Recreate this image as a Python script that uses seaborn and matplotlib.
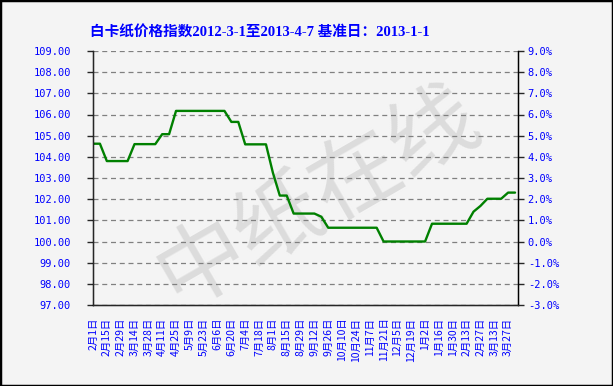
import pandas as pd
import numpy as np
import matplotlib
matplotlib.use("Agg")
import matplotlib.pyplot as plt
import seaborn as sns
from matplotlib.patches import Rectangle

# weekly index values
dates = pd.date_range("2012-02-01", periods=62, freq="7D")
values = [104.62, 104.62, 103.80, 103.80, 103.80, 103.80, 104.60, 104.60,
          104.60, 104.60, 105.07, 105.07, 106.17, 106.17, 106.17, 106.17,
          106.17, 106.17, 106.17, 106.17, 105.65, 105.65, 104.59, 104.59,
          104.59, 104.59, 103.25, 102.17, 102.17, 101.32, 101.32, 101.32,
          101.32, 101.17, 100.65, 100.65, 100.65, 100.65, 100.65, 100.65,
          100.65, 100.65, 100.00, 100.00, 100.00, 100.00, 100.00, 100.00,
          100.00, 100.84, 100.84, 100.84, 100.84, 100.84, 100.84, 101.41,
          101.68, 102.02, 102.02, 102.02, 102.31, 102.31]

tick_dates = pd.date_range("2012-02-01", periods=31, freq="14D")
tick_labels = ["2月1日", "2月15日", "2月29日", "3月14日", "3月28日", "4月11日",
               "4月25日", "5月9日", "5月23日", "6月6日", "6月20日", "7月4日",
               "7月18日", "8月1日", "8月15日", "8月29日", "9月12日", "9月26日",
               "10月10日", "10月24日", "11月7日", "11月21日", "12月5日",
               "12月19日", "1月2日", "1月16日", "1月30日", "2月13日", "2月27日",
               "3月13日", "3月27日"]
left_ticks = list(range(97, 110))
right_ticks = list(range(-3, 10))

sns.set_style("white")
plt.rcParams["font.family"] = ["Noto Sans CJK SC", "DejaVu Sans"]
blue = "#0000FF"

df = pd.DataFrame({"date": dates, "value": values})

fig = plt.figure(figsize=(6.13, 3.86), dpi=100, facecolor="#f4f4f4")
ax = fig.add_axes([93 / 613, 1 - 305 / 386, 425 / 613, 254 / 386])
ax.set_facecolor("none")
ax.set_zorder(2)

# watermark
fig.text(0.52, 0.49, "中纸在线", rotation=30, fontsize=64, color="#dcdcdc",
         ha="center", va="center", zorder=0.5)

sns.lineplot(data=df, x="date", y="value", ax=ax, color="#008000", linewidth=1.7)

ax.set_xlim(dates[0], dates[-1] + pd.Timedelta(days=3))
ax.set_ylim(97, 109)
ax.set_yticks(left_ticks)
ax.set_yticklabels([f"{v:.2f}" for v in left_ticks], color=blue, fontsize=7.5,
                   family="DejaVu Sans Mono")
ax.set_xticks(tick_dates)
ax.set_xticklabels(tick_labels, rotation=90, color=blue, fontsize=7.5, ha="center", va="top")
ax.tick_params(axis="x", direction="in", length=4, width=1, pad=9)
ax.tick_params(axis="y", direction="out", length=4, width=1, left=True, pad=12)
ax.set_xlabel("")
ax.set_ylabel("")
ax.yaxis.grid(True, color="#808080", linestyle=(0, (4, 3)), linewidth=0.9)
ax.xaxis.grid(False)
for s in ["left", "bottom", "right"]:
    ax.spines[s].set_color("black")
    ax.spines[s].set_linewidth(1)
ax.spines["top"].set_visible(False)

ax2 = ax.twinx()
ax2.set_ylim(-3, 9)
ax2.set_yticks(right_ticks)
ax2.set_yticklabels([f"{v:.1f}%" for v in right_ticks], color=blue, fontsize=7.5,
                    family="DejaVu Sans Mono")
ax2.tick_params(axis="y", direction="out", length=4, width=1, right=True, pad=3)
ax2.spines["top"].set_visible(False)
ax2.spines["right"].set_color("black")

fig.text(260 / 613, 1 - 32 / 386, "白卡纸价格指数2012-3-1至2013-4-7 基准日：2013-1-1",
         color=blue, fontsize=10.5, fontweight="bold", ha="center", va="center",
         family=["Liberation Serif", "Noto Sans CJK SC"])

fig.patches.append(Rectangle((0, 0), 1, 1, transform=fig.transFigure, fill=False,
                             edgecolor="black", linewidth=2.5))

fig.savefig("out.png", dpi=100, facecolor=fig.get_facecolor())
